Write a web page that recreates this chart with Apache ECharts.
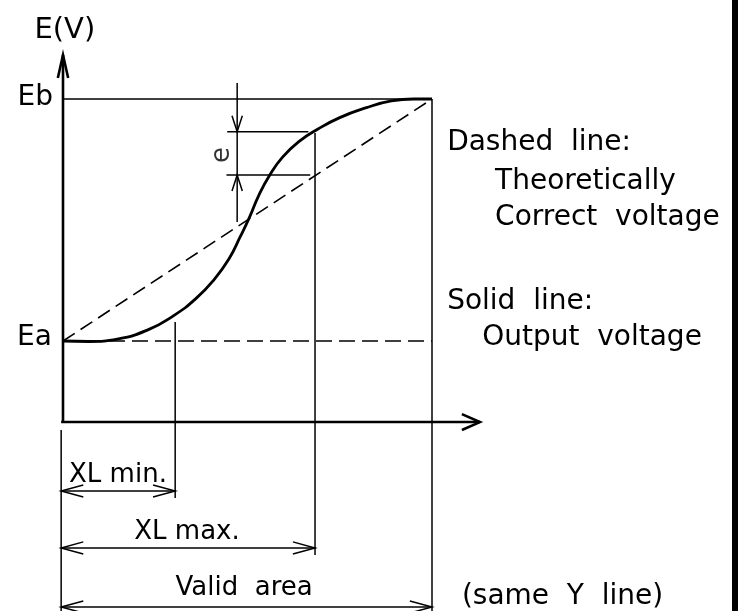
<!DOCTYPE html>
<html>
<head>
<meta charset="utf-8">
<script src="https://cdn.jsdelivr.net/npm/echarts@6/dist/echarts.min.js"></script>
<style>
    html, body { margin: 0; padding: 0; background: #fff; }
    #box { width: 741px; height: 611px; }
</style>
</head>
<body>
<div id="box"></div>
<script>
    // x: 0 = start of valid area, 100 = end; y: 0 = Ea, 100 = Eb
    var outputCurve = [
        [0, 0], [7, -0.2], [15, 0.9], [23, 4.6], [30, 10.5], [36, 17.5],
        [41, 25.5], [45, 34], [48, 43], [50.5, 51], [53, 60], [56, 68.5],
        [59.5, 76], [64, 82.5], [69, 87.5], [75, 92.3], [82, 96.3],
        [89, 99.2], [95, 100], [100, 100]
    ];
    var theoryLine = [[0, 0], [100, 100]];
    var eaLine = [[0, 0], [100, 0]];

    var axisY = -33.5;        // where the horizontal axis sits
    var axisXEnd = 113;
    var axisYEnd = 118.2;
    var xlMin = 30.4;
    var xlMax = 68.3;
    var validEnd = 100;
    var eTop = 86.5;
    var eBottom = 68.6;
    var eX = 47.2;
    var dimY = [-62.0, -85.5, -109.9];  // XL min, XL max, valid area arrows
    var bottomY = -111.6;

    var labels = [
        {text: 'E(V)', x: 0.5, y: 128.5, align: 'center', size: 29},
        {text: 'Eb', x: -2.7, y: 100.5, align: 'right', size: 28},
        {text: 'Ea', x: -3.0, y: 1.5, align: 'right', size: 28},
        {text: 'Dashed  line:', x: 104.1, y: 81.8, align: 'left', size: 28},
        {text: 'Theoretically', x: 117.1, y: 65.7, align: 'left', size: 28},
        {text: 'Correct  voltage', x: 117.1, y: 50.8, align: 'left', size: 28},
        {text: 'Solid  line:', x: 104.1, y: 16.1, align: 'left', size: 28},
        {text: 'Output  voltage', x: 113.6, y: 1.2, align: 'left', size: 28},
        {text: 'XL min.', x: 14.9, y: -55.4, align: 'center', size: 26},
        {text: 'XL max.', x: 33.6, y: -78.9, align: 'center', size: 26},
        {text: 'Valid  area', x: 49.1, y: -102.1, align: 'center', size: 26},
        {text: '(same  Y  line)', x: 108.1, y: -105.8, align: 'left', size: 28}
    ];

    // open chevron arrow head; dx/dy are the arm offsets back from the tip
    function chevron(tip, dx, dy, horiz) {
        if (horiz) return [[tip[0] + dx, tip[1] + dy], tip, [tip[0] + dx, tip[1] - dy]];
        return [[tip[0] + dx, tip[1] + dy], tip, [tip[0] - dx, tip[1] + dy]];
    }

    var axisLines = [
        {coords: [[0, axisY], [0, axisYEnd]]},
        {coords: [[-0.5, axisY], [axisXEnd, axisY]]},
        {coords: chevron([0, axisYEnd], 1.4, -9.5, false)},
        {coords: chevron([axisXEnd, axisY], -4.9, 3.3, true)}
    ];

    var thinLines = [
        {coords: [[0, 100], [validEnd, 100]]},
        {coords: [[validEnd, 100], [validEnd, bottomY]]},
        {coords: [[-0.5, -36.8], [-0.5, bottomY]]},
        {coords: [[xlMin, 7.9], [xlMin, -64.9]]},
        {coords: [[xlMax, 86.0], [xlMax, -88.4]]},
        {coords: [[eX, 106.6], [eX, 49.2]]},
        {coords: [[44.5, eTop], [66.5, eTop]]},
        {coords: [[44.3, eBottom], [67.0, eBottom]]},
        {coords: chevron([eX, eTop], 1.4, 6.6, false)},
        {coords: chevron([eX, eBottom], 1.4, -6.6, false)}
    ];
    var dimEnds = [xlMin, xlMax, validEnd];
    dimEnds.forEach(function (end, i) {
        thinLines.push({coords: [[-0.5, dimY[i]], [end, dimY[i]]]});
        thinLines.push({coords: chevron([-0.5, dimY[i]], 6.0, 2.5, true)});
        thinLines.push({coords: chevron([end, dimY[i]], -6.0, 2.5, true)});
    });

    var textStyle = {color: '#000', fontFamily: 'DejaVu Sans', textBorderWidth: 0};

    var chart = echarts.init(document.getElementById('box'));
    var option = {
        animation: false,
        backgroundColor: '#fff',
        grid: {left: 63, top: 99, width: 369, height: 242},
        xAxis: {type: 'value', min: 0, max: 100, show: false},
        yAxis: {type: 'value', min: 0, max: 100, show: false},
        graphic: [
            {type: 'rect', shape: {x: 732, y: 0, width: 6, height: 611}, style: {fill: '#000'}}
        ],
        series: [
            {
                type: 'lines', coordinateSystem: 'cartesian2d', polyline: true, clip: false,
                lineStyle: {color: '#000', width: 2.6, opacity: 1},
                data: axisLines
            },
            {
                type: 'lines', coordinateSystem: 'cartesian2d', polyline: true, clip: false,
                lineStyle: {color: '#000', width: 1.5, opacity: 1},
                data: thinLines
            },
            {
                type: 'line', data: theoryLine, showSymbol: false, clip: false,
                lineStyle: {color: '#000', width: 1.6, type: [14, 7]}
            },
            {
                type: 'line', data: eaLine, showSymbol: false, clip: false,
                lineStyle: {color: '#000', width: 1.6, type: [16, 7]}
            },
            {
                type: 'line', data: outputCurve, showSymbol: false, clip: false,
                smooth: 0.5,
                lineStyle: {color: '#000', width: 2.8}
            },
            {
                type: 'scatter', symbolSize: 0, clip: false, itemStyle: {opacity: 1},
                data: labels.map(function (l) {
                    return {
                        value: [l.x, l.y],
                        label: Object.assign({
                            show: true, position: 'inside', formatter: l.text, align: l.align,
                            verticalAlign: 'middle', fontSize: l.size
                        }, textStyle)
                    };
                })
            },
            {
                type: 'scatter', symbolSize: 0, clip: false,
                data: [{
                    value: [43.1, 76.9],
                    label: Object.assign({
                        show: true, position: 'inside', formatter: 'e', rotate: 90,
                        verticalAlign: 'middle', align: 'center', fontSize: 26
                    }, textStyle)
                }]
            }
        ]
    };
    chart.setOption(option);
</script>
</body>
</html>
